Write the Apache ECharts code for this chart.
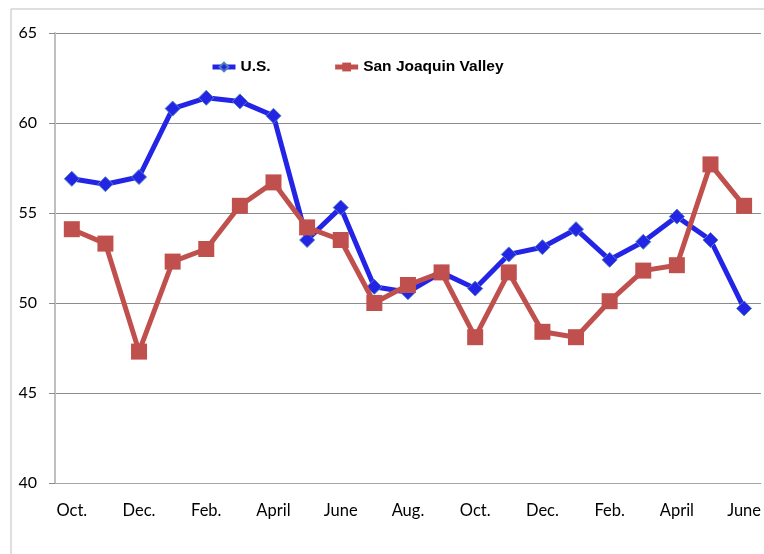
<!DOCTYPE html>
<html>
<head>
  <meta charset="UTF-8">
  <title>U.S. vs San Joaquin Valley</title>
  <script src="https://cdn.jsdelivr.net/npm/echarts@6/dist/echarts.min.js"></script>
  <style>
    html, body { margin: 0; padding: 0; background: #fff; }
    #chart { width: 764px; height: 554px; }
  </style>
</head>
<body>
  <div id="chart"></div>
  <script>
    // months, Oct. through June of the following year
    var months = ['Oct.', 'Nov.', 'Dec.', 'Jan.', 'Feb.', 'Mar.', 'April', 'May', 'June', 'July', 'Aug.',
      'Sep.', 'Oct.', 'Nov.', 'Dec.', 'Jan.', 'Feb.', 'Mar.', 'April', 'May', 'June'];
    var usValues = [56.9, 56.6, 57.0, 60.8, 61.4, 61.2, 60.4, 53.5, 55.3, 50.9, 50.6,
      51.7, 50.8, 52.7, 53.1, 54.1, 52.4, 53.4, 54.8, 53.5, 49.7];
    var sjvValues = [54.1, 53.3, 47.3, 52.3, 53.0, 55.4, 56.7, 54.2, 53.5, 50.0, 51.0,
      51.7, 48.1, 51.7, 48.4, 48.1, 50.1, 51.8, 52.1, 57.7, 55.4];
    var yTicks = [40, 45, 50, 55, 60, 65];

    var chart = echarts.init(document.getElementById('chart'));
    chart.setOption({
      animation: false,
      backgroundColor: '#fff',
      graphic: [{
        type: 'rect',
        shape: { x: 11, y: 9, width: 800, height: 600 },
        style: { fill: 'none', stroke: '#bfbfbf', lineWidth: 1 },
        silent: true
      }],
      legend: {
        left: 210,
        top: 59,
        padding: 0,
        itemWidth: 23,
        itemHeight: 11,
        itemGap: 62,
        lineStyle: { width: 5 },
        textStyle: { fontFamily: 'Liberation Sans', fontWeight: 'bold', fontSize: 15.5, color: '#000' },
        data: ['U.S.', 'San Joaquin Valley']
      },
      grid: { left: 55, top: 33, right: 2, bottom: 71 },
      xAxis: {
        type: 'category',
        data: months,
        boundaryGap: true,
        axisLine: { lineStyle: { color: '#a6a6a6', width: 1 } },
        axisTick: { interval: 0, length: 5, lineStyle: { color: '#a6a6a6' } },
        axisLabel: {
          interval: 1,
          margin: 19,
          fontFamily: 'Lato',
          fontSize: 16.5,
          color: '#000'
        },
        splitLine: { show: false }
      },
      yAxis: {
        type: 'value',
        min: yTicks[0],
        max: yTicks[yTicks.length - 1],
        interval: 5,
        axisLine: { show: true, lineStyle: { color: '#bfbfbf', width: 2 } },
        axisTick: { show: true, length: 6, lineStyle: { color: '#8c8c8c' } },
        axisLabel: { margin: 18, fontFamily: 'Lato', fontSize: 16, color: '#000' },
        splitLine: { lineStyle: { color: '#8c8c8c', width: 1 } }
      },
      series: [{
        name: 'U.S.',
        type: 'line',
        data: usValues,
        symbol: 'diamond',
        symbolSize: 15,
        lineStyle: { color: '#2424e6', width: 5 },
        itemStyle: { color: '#2424e6', borderColor: '#4f81bd', borderWidth: 1 },
        z: 3
      }, {
        name: 'San Joaquin Valley',
        type: 'line',
        data: sjvValues,
        symbol: 'rect',
        symbolSize: 16,
        lineStyle: { color: '#c0504d', width: 5 },
        itemStyle: { color: '#c0504d' },
        z: 4
      }]
    });
  </script>
</body>
</html>
